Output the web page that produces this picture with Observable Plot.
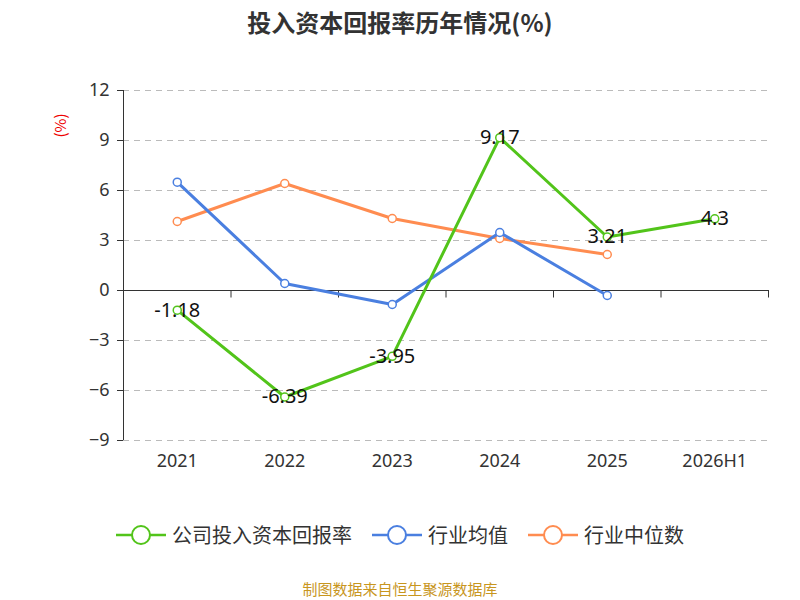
<!DOCTYPE html><html><head><meta charset="utf-8">
<script src="https://cdn.jsdelivr.net/npm/d3@7"></script>
<script src="https://cdn.jsdelivr.net/npm/@observablehq/plot@0.6"></script>
<style>body{margin:0;font-family:"Noto Sans CJK SC","Noto Sans",sans-serif;width:800px;height:600px;position:relative;background:#fff}
.t{position:absolute;left:0;width:800px;text-align:center}
</style></head><body>
<div class="t" style="top:4px;font-size:24px;font-weight:bold;color:#333">投入资本回报率历年情况(%)</div>
<div id="c" style="position:absolute;top:45px;left:0"></div>
<div style="position:absolute;left:48px;top:115px;color:#e00;font-size:15px;transform:rotate(-90deg)">(%)</div>
<div id="lg" class="t" style="top:520px;font-size:20px;color:#333"></div>
<div class="t" style="top:578px;font-size:15px;color:#c8961e">制图数据来自恒生聚源数据库</div>
<script>
const years=["2021","2022","2023","2024","2025","2026H1"];
const company=[-1.18,-6.39,-3.95,9.17,3.21,4.3];
const avg=[6.5,0.42,-0.84,3.48,-0.3];
const median=[4.14,6.42,4.32,3.12,2.16];
const series=[["公司投入资本回报率",company,"#52c41a"],["行业均值",avg,"#4a7fe0"],["行业中位数",median,"#ff8c50"]];
const rows=[];series.forEach(([n,v,c])=>v.forEach((y,i)=>rows.push({n,i,y,c})));
const comp=rows.filter(d=>d.n===series[0][0]);
const marks=[
 Plot.ruleY([-9,-6,-3,3,6,9,12],{stroke:"#bbb",strokeDasharray:"6,5"}),
 Plot.ruleY([0],{stroke:"#333"}),
 Plot.ruleX([0.5,1.5,2.5,3.5,4.5,5.5],{y1:0,y2:-0.45,stroke:"#333"}),
 Plot.axisY({ticks:[-9,-6,-3,0,3,6,9,12],tickSize:6,fontSize:18,tickPadding:8,label:null}),
 Plot.ruleX([-0.5],{stroke:"#333"}),
 Plot.axisX({ticks:[0,1,2,3,4,5],tickFormat:i=>years[i],tickSize:0,fontSize:18,tickPadding:14,label:null}),
];
series.slice().reverse().forEach(([n,v,c])=>{
 const d=rows.filter(r=>r.n===n);
 marks.push(Plot.line(d,{x:"i",y:"y",stroke:c,strokeWidth:3}));
 marks.push(Plot.dot(d,{x:"i",y:"y",r:4,stroke:c,strokeWidth:1.5,fill:"#fff"}));
});
marks.push(Plot.text(comp,{x:"i",y:"y",text:d=>String(d.y),fontSize:20,fill:"#111"}));
document.getElementById("c").append(Plot.plot({width:800,height:500,marginTop:45,marginBottom:105,marginLeft:123,marginRight:32,
 style:{fontFamily:"Noto Sans",color:"#333",fontSize:"18px"},
 x:{type:"linear",domain:[-0.5,5.5],axis:null},y:{domain:[-9,12],axis:null},marks}));
document.getElementById("lg").innerHTML=series.map(([n,v,c])=>`<span style="display:inline-flex;align-items:center;margin:0 10px"><svg width="50" height="24"><line x1="0" x2="50" y1="12" y2="12" stroke="${c}" stroke-width="2.5"/><circle cx="25" cy="12" r="9" fill="#fff" stroke="${c}" stroke-width="2"/></svg><span style="margin-left:6px">${n}</span></span>`).join("");
</script></body></html>
